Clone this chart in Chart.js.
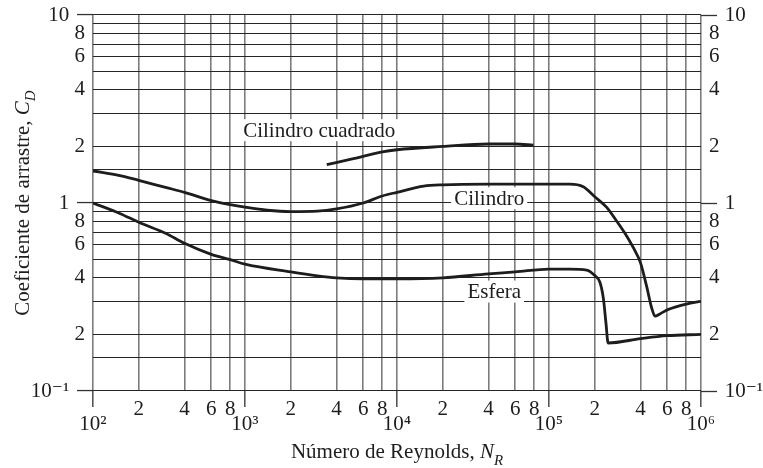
<!DOCTYPE html>
<html>
<head>
<meta charset="utf-8">
<title>Coeficiente de arrastre</title>
<script src="https://cdn.jsdelivr.net/npm/chart.js@4/dist/chart.umd.min.js"></script>
<style>
  html, body { margin: 0; padding: 0; background: #fff; }
  #wrap { width: 763px; height: 468px; }
</style>
</head>
<body>
<div id="wrap"><canvas id="chart" width="763" height="468"></canvas></div>
<script>
'use strict';

// curves: Reynolds number -> C_D
const squareRe = [3450, 5000, 8000, 10000, 20000, 40000, 60000, 79000];
const squareCd = [1.60, 1.71, 1.87, 1.92, 2.00, 2.06, 2.06, 2.03];

const cylinderRe = [100, 150, 200, 300, 400, 600, 800, 1000, 1400, 2000, 3000, 4000, 6000, 8000,
    10000, 15000, 20000, 40000, 100000, 137000, 168000, 200000, 239000, 279000,
    316000, 358000, 400000, 439000, 473000, 498000, 537000, 600000, 800000, 1000000];
const cylinderCd = [1.48, 1.40, 1.32, 1.21, 1.14, 1.03, 0.98, 0.95, 0.915, 0.90, 0.905, 0.93, 1.00, 1.09,
    1.14, 1.23, 1.25, 1.26, 1.26, 1.26, 1.22, 1.08, 0.95, 0.80,
    0.69, 0.58, 0.48, 0.36, 0.278, 0.25, 0.257, 0.27, 0.29, 0.30];

const sphereRe = [100, 150, 200, 300, 400, 600, 800, 1000, 2000, 3000, 4000, 6000, 10000, 20000,
    40000, 60000, 100000, 137000, 177000, 201000, 216000, 228000, 237000, 245000, 400000, 600000, 1000000];
const sphereCd = [1.00, 0.88, 0.79, 0.69, 0.61, 0.533, 0.50, 0.473, 0.43, 0.41, 0.40, 0.395, 0.395, 0.40,
    0.42, 0.43, 0.445, 0.445, 0.44, 0.41, 0.38, 0.31, 0.23, 0.18, 0.19, 0.197, 0.20];

// curve names and where they sit
const curveNames = ['Cilindro cuadrado', 'Cilindro', 'Esfera'];
const nameRe = [3080, 40400, 43600];
const nameCd = [2.44, 1.06, 0.338];

// axes
const xDecades = [2, 3, 4, 5, 6];
const xMinorLabels = [2, 4, 6, 8];
const yGridValues = [0.1, 0.15, 0.2, 0.3, 0.4, 0.5, 0.6, 0.7, 0.8, 0.9, 1, 1.5, 2, 3, 4, 5, 6, 7, 8, 9, 10];
const yLabelled = [0.1, 0.2, 0.4, 0.6, 0.8, 1, 2, 4, 6, 8, 10];
const xTitle = ['Número de Reynolds, ', 'N', 'R'];
const yTitle = ['Coeficiente de arrastre, ', 'C', 'D'];

const FONT = "'Liberation Serif', 'Times New Roman', 'DejaVu Serif', serif";
const INK = '#1d1d1d';
const SUP = {'-': '⁻', '0': '⁰', '1': '¹', '2': '²', '3': '³', '4': '⁴', '5': '⁵', '6': '⁶', '7': '⁷', '8': '⁸', '9': '⁹'};

const isDecade = v => Math.abs(Math.log10(v) - Math.round(Math.log10(v))) < 1e-6;
const pow10 = e => '10' + String(e).split('').map(c => SUP[c]).join('');
const toPoints = (xs, ys) => xs.map((x, i) => ({x: x, y: ys[i]}));

function buildXTicks(){
    let arr = [];
    xDecades.forEach((e, i) => {
        const base = Math.pow(10, e);
        arr.push({value: base});
        if(i < xDecades.length - 1){
            xMinorLabels.forEach(m => arr.push({value: m * base}));
        }
    });
    return arr;
}

function yText(v){
    if(!yLabelled.some(l => Math.abs(l - v) < 1e-9)) return null;
    const e = Math.round(Math.log10(v));
    if(isDecade(v)) return e < 0 ? pow10(e) : String(Math.pow(10, e));
    return String(Math.round(v < 1 ? v * 10 : v));
}

function decadeTick(ctx, color){
    return ctx.tick && isDecade(ctx.tick.value) ? color : 'rgba(0,0,0,0)';
}

// draws text pieces side by side, centred on x; piece = [text, font, dy]
function drawRich(ctx, parts, x, y){
    let w = 0;
    parts.forEach(p => { ctx.font = p[1]; w += ctx.measureText(p[0]).width; });
    let cx = x - w / 2;
    parts.forEach(p => {
        ctx.font = p[1];
        ctx.fillText(p[0], cx, y + p[2]);
        cx += ctx.measureText(p[0]).width;
    });
}

const axisTitles = {
    id: 'axisTitles',
    afterDraw(chart){
        const ctx = chart.ctx;
        const a = chart.chartArea;
        ctx.save();
        ctx.fillStyle = INK;
        ctx.textAlign = 'left';
        ctx.textBaseline = 'alphabetic';
        drawRich(ctx, [
            [xTitle[0], '21px ' + FONT, 0],
            [xTitle[1], 'italic 21px ' + FONT, 0],
            [xTitle[2], 'italic 15px ' + FONT, 7]
        ], (a.left + a.right) / 2, a.bottom + 66.5);
        ctx.translate(a.left - 64.5, (a.top + a.bottom) / 2);
        ctx.rotate(-Math.PI / 2);
        drawRich(ctx, [
            [yTitle[0], '21px ' + FONT, 0],
            [yTitle[1], 'italic 21px ' + FONT, 0],
            [yTitle[2], 'italic 15px ' + FONT, 6]
        ], 0, 0);
        ctx.restore();
    }
};

const curveLabels = {
    id: 'curveLabels',
    beforeDatasetsDraw(chart){
        const ctx = chart.ctx;
        const xs = chart.scales.x, ys = chart.scales.y;
        ctx.save();
        ctx.font = '21px ' + FONT;
        ctx.textAlign = 'center';
        ctx.textBaseline = 'middle';
        curveNames.forEach((name, i) => {
            const px = xs.getPixelForValue(nameRe[i]);
            const py = ys.getPixelForValue(nameCd[i]);
            const w = ctx.measureText(name).width + 6;
            ctx.fillStyle = '#fff';
            ctx.fillRect(px - w / 2, py - 11, w, 22);
            ctx.fillStyle = INK;
            ctx.fillText(name, px, py + 1);
        });
        ctx.restore();
    }
};

const lineStyle = {
    borderColor: INK,
    borderWidth: 2.8,
    pointRadius: 0,
    cubicInterpolationMode: 'monotone',
    fill: false
};

const yCommon = {
    type: 'logarithmic',
    min: 0.1,
    max: 10,
    border: {display: false},
    afterBuildTicks: s => { s.ticks = yGridValues.map(v => ({value: v})); }
};

new Chart(document.getElementById('chart'), {
    type: 'line',
    data: {
        datasets: [
            Object.assign({label: curveNames[0], data: toPoints(squareRe, squareCd)}, lineStyle),
            Object.assign({label: curveNames[1], data: toPoints(cylinderRe, cylinderCd)}, lineStyle),
            Object.assign({label: curveNames[2], data: toPoints(sphereRe, sphereCd)}, lineStyle)
        ]
    },
    options: {
        responsive: false,
        devicePixelRatio: 1,
        animation: false,
        events: [],
        layout: {padding: {top: 15, left: 0, right: 0, bottom: 0}},
        plugins: {legend: {display: false}, tooltip: {enabled: false}},
        scales: {
            x: {
                type: 'logarithmic',
                min: 100,
                max: 1000000,
                border: {display: false},
                afterBuildTicks: s => { s.ticks = buildXTicks(); },
                afterFit: s => { s.height = 77; },
                grid: {
                    color: '#7c7c7c',
                    lineWidth: 1.6,
                    drawTicks: true,
                    tickLength: 16,
                    tickWidth: 1.6,
                    tickColor: ctx => decadeTick(ctx, '#555')
                },
                ticks: {
                    autoSkip: false,
                    maxRotation: 0,
                    minRotation: 0,
                    padding: -5.5,
                    color: INK,
                    font: {family: FONT, size: 21, lineHeight: 0.72},
                    callback: v => {
                        if(isDecade(v)) return ['', pow10(Math.round(Math.log10(v)))];
                        return String(Math.round(v / Math.pow(10, Math.floor(Math.log10(v) + 1e-9))));
                    }
                }
            },
            y: Object.assign({}, yCommon, {
                position: 'left',
                afterFit: s => { s.width = 93; },
                grid: {
                    color: '#262626',
                    lineWidth: 1.1,
                    drawTicks: true,
                    tickLength: 16,
                    tickWidth: 1.3,
                    tickColor: ctx => decadeTick(ctx, '#333')
                },
                ticks: {
                    autoSkip: false,
                    padding: -8,
                    color: INK,
                    font: {family: FONT, size: 21},
                    callback: v => {
                        const t = yText(v);
                        if(t === null) return '';
                        return isDecade(v) ? t + '   ' : t;
                    }
                }
            }),
            y2: Object.assign({}, yCommon, {
                position: 'right',
                afterFit: s => { s.width = 62; },
                grid: {
                    drawOnChartArea: false,
                    drawTicks: true,
                    tickLength: 16,
                    tickWidth: 1.3,
                    tickColor: ctx => decadeTick(ctx, '#333')
                },
                ticks: {
                    autoSkip: false,
                    padding: -8,
                    color: INK,
                    font: {family: FONT, size: 21},
                    callback: v => {
                        const t = yText(v);
                        if(t === null) return '';
                        return isDecade(v) ? '   ' + t : t;
                    }
                }
            })
        }
    },
    plugins: [curveLabels, axisTitles]
});
</script>
</body>
</html>
